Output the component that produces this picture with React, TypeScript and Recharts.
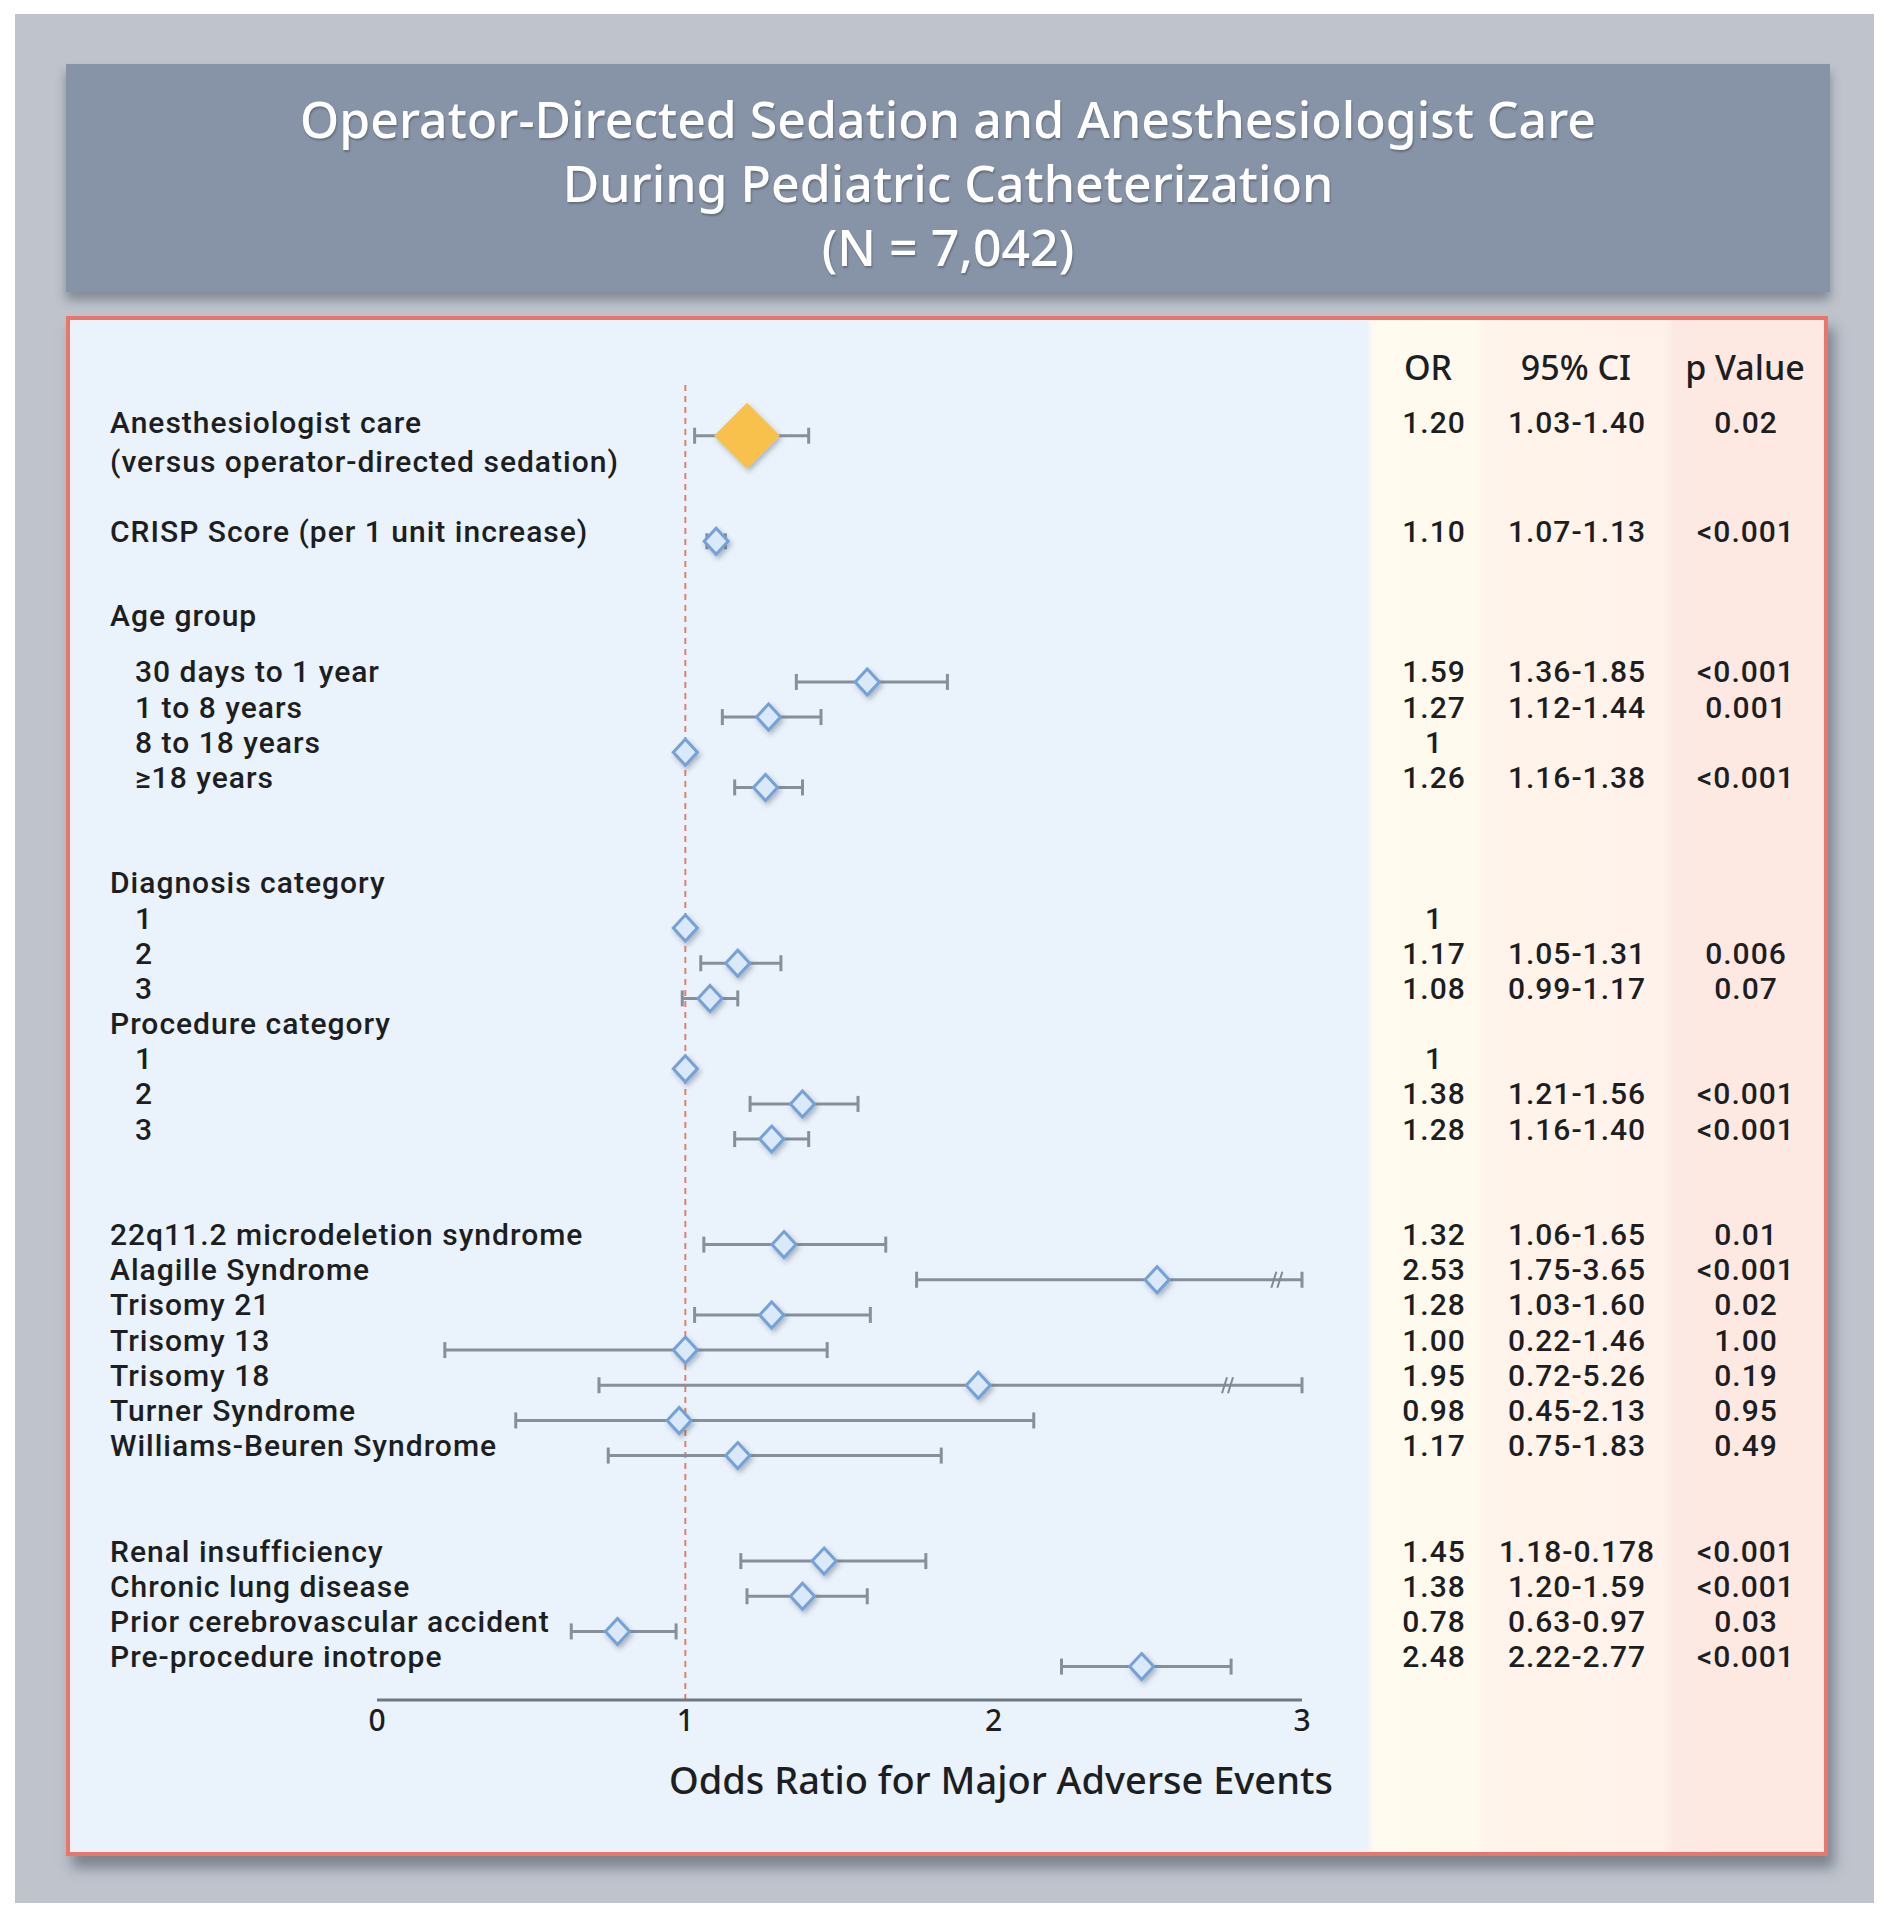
import React from "react";
import { ScatterChart, Scatter, XAxis, YAxis, ErrorBar, ReferenceLine } from "recharts";

const FONT = "'Noto Sans', 'Open Sans', sans-serif";
const ROW_FONT = "Roboto, 'Noto Sans', sans-serif";

const titleLines = [
  "Operator-Directed Sedation and Anesthesiologist Care",
  "During Pediatric Catheterization",
  "(N = 7,042)",
];
const tableHeaders = ["OR", "95% CI", "p Value"];
const xTicks = [0, 1, 2, 3];
const xAxisLabel = "Odds Ratio for Major Adverse Events";

// one entry per row of the plot, "" = empty spacer row
const rowLabels = [
  "Anesthesiologist care\n(versus operator-directed sedation)", "", "",
  "CRISP Score (per 1 unit increase)", "",
  "Age group", "",
  "30 days to 1 year", "1 to 8 years", "8 to 18 years", "≥18 years", "", "",
  "Diagnosis category", "1", "2", "3",
  "Procedure category", "1", "2", "3", "", "",
  "22q11.2 microdeletion syndrome", "Alagille Syndrome", "Trisomy 21", "Trisomy 13",
  "Trisomy 18", "Turner Syndrome", "Williams-Beuren Syndrome", "", "",
  "Renal insufficiency", "Chronic lung disease", "Prior cerebrovascular accident",
  "Pre-procedure inotrope",
];
const headerLabels = ["Age group", "Diagnosis category", "Procedure category"];
const levelLabels = ["30 days to 1 year", "1 to 8 years", "8 to 18 years", "≥18 years", "1", "2", "3"];
const highlightLabel = rowLabels[0];

const oddsRatio = [
  1.2, null, null, 1.1, null, null, null, 1.59, 1.27, 1, 1.26, null, null,
  null, 1, 1.17, 1.08, null, 1, 1.38, 1.28, null, null,
  1.32, 2.53, 1.28, 1.0, 1.95, 0.98, 1.17, null, null,
  1.45, 1.38, 0.78, 2.48,
];
const ciLow = [
  1.03, null, null, 1.07, null, null, null, 1.36, 1.12, null, 1.16, null, null,
  null, null, 1.05, 0.99, null, null, 1.21, 1.16, null, null,
  1.06, 1.75, 1.03, 0.22, 0.72, 0.45, 0.75, null, null,
  1.18, 1.2, 0.63, 2.22,
];
const ciHigh = [
  1.4, null, null, 1.13, null, null, null, 1.85, 1.44, null, 1.38, null, null,
  null, null, 1.31, 1.17, null, null, 1.56, 1.4, null, null,
  1.65, 3.65, 1.6, 1.46, 5.26, 2.13, 1.83, null, null,
  1.78, 1.59, 0.97, 2.77,
];
const orText = [
  "1.20", "", "", "1.10", "", "", "", "1.59", "1.27", "1", "1.26", "", "",
  "", "1", "1.17", "1.08", "", "1", "1.38", "1.28", "", "",
  "1.32", "2.53", "1.28", "1.00", "1.95", "0.98", "1.17", "", "",
  "1.45", "1.38", "0.78", "2.48",
];
const ciText = [
  "1.03-1.40", "", "", "1.07-1.13", "", "", "", "1.36-1.85", "1.12-1.44", "", "1.16-1.38", "", "",
  "", "", "1.05-1.31", "0.99-1.17", "", "", "1.21-1.56", "1.16-1.40", "", "",
  "1.06-1.65", "1.75-3.65", "1.03-1.60", "0.22-1.46", "0.72-5.26", "0.45-2.13", "0.75-1.83", "", "",
  "1.18-0.178", "1.20-1.59", "0.63-0.97", "2.22-2.77",
];
const pText = [
  "0.02", "", "", "<0.001", "", "", "", "<0.001", "0.001", "", "<0.001", "", "",
  "", "", "0.006", "0.07", "", "", "<0.001", "<0.001", "", "",
  "0.01", "<0.001", "0.02", "1.00", "0.19", "0.95", "0.49", "", "",
  "<0.001", "<0.001", "0.03", "<0.001",
];

// CIs cut at the axis end, with the "//" break drawn at these odds ratios
const brokenRows = ["Alagille Syndrome", "Trisomy 18"];
const breakAt = [2.92, 2.76];

const X_MAX = 3;

const rows = rowLabels.map((label, slot) => ({
  label,
  slot,
  or: oddsRatio[slot],
  lo: ciLow[slot],
  hi: ciHigh[slot],
  orT: orText[slot],
  ciT: ciText[slot],
  pT: pText[slot],
}));

const withCi = rows
  .filter((r) => r.or != null && r.lo != null && r.hi != null)
  .map((r) => ({
    label: r.label,
    or: r.or as number,
    slot: r.slot,
    err: [(r.or as number) - (r.lo as number), Math.min(r.hi as number, X_MAX) - (r.or as number)],
  }));
const ciPoints = withCi.filter((p) => p.label !== highlightLabel);
const mainPoints = withCi.filter((p) => p.label === highlightLabel);
const refPoints = rows
  .filter((r) => r.or != null && r.lo == null)
  .map((r) => ({ or: r.or as number, slot: r.slot }));
const breakPoints = brokenRows.map((label, i) => ({
  or: breakAt[i],
  slot: rowLabels.indexOf(label),
}));
const labelSlots = rows.filter((r) => r.label !== "").map((r) => r.slot);

const TEXT_COLOR = "#1c1e22";

function SmallDiamond(props: any) {
  const { cx, cy } = props;
  if (cx == null || cy == null) return null;
  return (
    <polygon
      points={`${cx},${cy - 13} ${cx + 12},${cy} ${cx},${cy + 13} ${cx - 12},${cy}`}
      fill="#dae9f9"
      stroke="#74a1d6"
      strokeWidth={3}
      filter="url(#markerShadow)"
    />
  );
}

function BigDiamond(props: any) {
  const { cx, cy } = props;
  if (cx == null || cy == null) return null;
  return (
    <polygon
      points={`${cx},${cy - 33} ${cx + 33},${cy} ${cx},${cy + 33} ${cx - 33},${cy}`}
      fill="#f7c14c"
      filter="url(#markerShadow)"
    />
  );
}

function BreakMark(props: any) {
  const { cx, cy } = props;
  if (cx == null || cy == null) return null;
  return (
    <g stroke="#7f8994" strokeWidth={2}>
      <line x1={cx - 6} y1={cy + 8} x2={cx - 1} y2={cy - 8} />
      <line x1={cx} y1={cy + 8} x2={cx + 5} y2={cy - 8} />
    </g>
  );
}

function RowTick(props: any) {
  const { y, payload } = props;
  const row = rows[payload.value];
  if (!row || row.label === "") return null;
  const isHeader = headerLabels.includes(row.label);
  const nextEmpty = rowLabels[row.slot + 1] === "";
  const textY = row.slot === 0 ? y - 13 : isHeader && nextEmpty ? y + 4 : y - 10;
  const x = levelLabels.includes(row.label) ? 69 : 44;
  const common = {
    fontFamily: ROW_FONT,
    fontSize: 30,
    fontWeight: 500,
    letterSpacing: 1,
    fill: TEXT_COLOR,
    dominantBaseline: "central" as const,
  };
  return (
    <g>
      {row.label.split("\n").map((line, i) => (
        <text key={i} x={x} y={textY + i * 39} {...common}>
          {line}
        </text>
      ))}
      {row.orT && (
        <text x={1368} y={textY} textAnchor="middle" {...common}>
          {row.orT}
        </text>
      )}
      {row.ciT && (
        <text x={1511} y={textY} textAnchor="middle" {...common}>
          {row.ciT}
        </text>
      )}
      {row.pT && (
        <text x={1680} y={textY} textAnchor="middle" {...common}>
          {row.pT}
        </text>
      )}
    </g>
  );
}

function AxisTitle(props: any) {
  const vb = props.viewBox || { x: 0, y: 0, width: 0 };
  return (
    <text
      x={vb.x + vb.width + 31}
      y={vb.y + 94}
      textAnchor="end"
      fontFamily={FONT}
      fontSize={38}
      fontWeight={500}
      fill={TEXT_COLOR}
    >
      {xAxisLabel}
    </text>
  );
}

export default function App() {
  return (
    <div
      style={{
        position: "absolute",
        left: 0,
        top: 0,
        width: 1890,
        height: 1920,
        background: "#ffffff",
        fontFamily: FONT,
        overflow: "hidden",
      }}
    >
      <div style={{ position: "absolute", left: 15, top: 14, width: 1859, height: 1889, background: "#bec3cc" }} />
      <div
        style={{
          position: "absolute",
          left: 66,
          top: 64,
          width: 1764,
          height: 228,
          boxSizing: "border-box",
          paddingTop: 23,
          background: "#8794a7",
          boxShadow: "0 8px 10px rgba(60,70,85,0.45)",
          color: "#ffffff",
          textAlign: "center",
          fontSize: 50,
          fontWeight: 500,
          lineHeight: "64px",
          textShadow: "1px 2px 2px rgba(0,0,0,0.25)",
        }}
      >
        {titleLines.map((t) => (
          <div key={t}>{t}</div>
        ))}
      </div>
      <div
        style={{
          position: "absolute",
          left: 66,
          top: 316,
          width: 1762,
          height: 1540,
          boxSizing: "border-box",
          border: "4px solid #e8766a",
          boxShadow: "6px 12px 12px rgba(70,80,95,0.55)",
          background:
            "linear-gradient(to right, #eaf2fb 0px, #eaf2fb 1296px, #fffbef 1304px, #fff9ee 1406px, #fff4eb 1418px, #fff2ea 1592px, #fde9e3 1604px, #fde8e2 100%)",
        }}
      />
      <div style={{ position: "absolute", left: 66, top: 316 }}>
        <ScatterChart width={1762} height={1540} margin={{ top: 67, right: 526, bottom: 96, left: 0 }}>
          <defs>
            <filter id="markerShadow" x="-60%" y="-60%" width="220%" height="220%">
              <feDropShadow dx="2" dy="3" stdDeviation="2.5" floodColor="#34445a" floodOpacity="0.35" />
            </filter>
          </defs>
          <g fontFamily={FONT} fontSize={34} fontWeight={500} fill={TEXT_COLOR}>
            <text x={1362} y={51} textAnchor="middle" dominantBaseline="central">
              {tableHeaders[0]}
            </text>
            <text x={1510} y={51} textAnchor="middle" dominantBaseline="central">
              {tableHeaders[1]}
            </text>
            <text x={1679} y={51} textAnchor="middle" dominantBaseline="central">
              {tableHeaders[2]}
            </text>
          </g>
          <XAxis
            type="number"
            dataKey="or"
            domain={[0, X_MAX]}
            ticks={xTicks}
            allowDataOverflow
            height={60}
            tickLine={false}
            tickSize={0}
            tickMargin={10}
            axisLine={{ stroke: "#6f7882", strokeWidth: 3 }}
            tick={{ fontSize: 30, fill: TEXT_COLOR, fontFamily: FONT, fontWeight: 500 }}
            label={<AxisTitle />}
          />
          <YAxis
            type="number"
            dataKey="slot"
            domain={[-1.5, 35.95]}
            reversed
            allowDataOverflow
            ticks={labelSlots}
            interval={0}
            width={311}
            axisLine={false}
            tickLine={false}
            tick={(p: any) => <RowTick {...p} />}
          />
          <ReferenceLine x={1} stroke="#e2806b" strokeWidth={2} strokeDasharray="6 5" />
          <Scatter data={ciPoints} isAnimationActive={false} shape={(p: any) => <SmallDiamond {...p} />}>
            <ErrorBar dataKey="err" direction="x" width={8} stroke="#86909b" strokeWidth={3} isAnimationActive={false} />
          </Scatter>
          <Scatter data={breakPoints} isAnimationActive={false} shape={(p: any) => <BreakMark {...p} />} />
          <Scatter data={refPoints} isAnimationActive={false} shape={(p: any) => <SmallDiamond {...p} />} />
          <Scatter data={mainPoints} isAnimationActive={false} shape={(p: any) => <BigDiamond {...p} />}>
            <ErrorBar dataKey="err" direction="x" width={8} stroke="#86909b" strokeWidth={3} isAnimationActive={false} />
          </Scatter>
        </ScatterChart>
      </div>
    </div>
  );
}
